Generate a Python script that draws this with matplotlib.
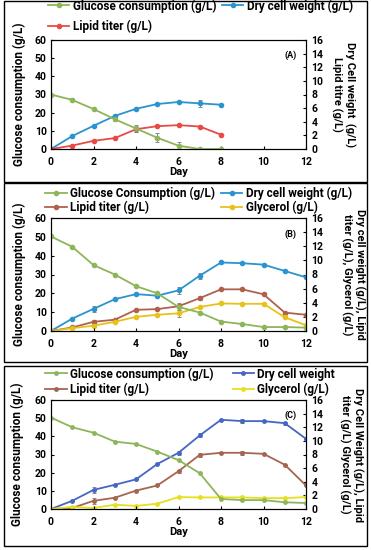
import matplotlib.pyplot as plt
from matplotlib.patches import Rectangle

plt.rcParams['font.family'] = ['Roboto', 'DejaVu Sans']
plt.rcParams['font.weight'] = 'bold'
plt.rcParams['axes.labelweight'] = 'bold'
plt.rcParams['font.size'] = 7.5

# ---- panel A data ----
days_a = [0, 1, 2, 3, 4, 5, 6, 7, 8]
glu_a = [30, 27, 22, 16.4, 11.3, 6.2, 1.8, 0, 0]
glu_a_err = [0, 0.8, 0.8, 0.8, 2.0, 2.5, 2.0, 0, 0]
dcw_a = [0, 1.9, 3.4, 4.85, 5.9, 6.6, 6.9, 6.7, 6.5]
dcw_a_err = [0, 0, 0, 0, 0, 0, 0.2, 0.5, 0]
lip_a = [0, 0.5, 1.2, 1.6, 2.9, 3.35, 3.5, 3.3, 2.1]
lip_a_err = [0, 0, 0, 0, 0.4, 0, 0, 0, 0]

# ---- panel B data ----
days_b = [0, 1, 2, 3, 4, 5, 6, 7, 8, 9, 10, 11, 12]
glu_b = [50.2, 44.7, 35, 30, 23.8, 20, 12.8, 9.8, 5, 3.7, 2.1, 2.1, 1.8]
dcw_b = [0, 1.76, 3.13, 4.5, 5.22, 5.0, 5.75, 7.83, 9.7, 9.6, 9.4, 8.5, 7.6]
dcw_b_err = [0, 0, 0.4, 0, 0, 0, 0.5, 0.4, 0, 0, 0, 0, 0]
lip_b = [0, 0.5, 1.3, 1.6, 3.0, 3.1, 3.5, 4.65, 5.9, 5.9, 5.2, 2.6, 2.3]
lip_b_err = [0, 0, 0.3, 0, 0, 0, 0.5, 0.3, 0, 0, 0, 0, 0]
gly_b = [0, 0.4, 0.75, 1.3, 2.0, 2.3, 2.5, 3.4, 3.9, 3.85, 3.85, 1.95, 0.8]
gly_b_err = [0, 0, 0, 0, 0, 0, 0.5, 0, 0, 0, 0, 0, 0]

# ---- panel C data ----
days_c = [0, 1, 2, 3, 4, 5, 6, 7, 8, 9, 10, 11, 12]
glu_c = [50.3, 45, 42, 37.1, 35.8, 31.6, 26.9, 19.7, 5.5, 4.9, 4.9, 3.7, 3.3]
dcw_c = [0, 1.2, 2.8, 3.55, 4.35, 6.6, 8.25, 10.8, 13.1, 12.9, 12.9, 12.6, 10.3]
dcw_c_err = [0, 0, 0.5, 0, 0, 0, 0.3, 0.3, 0, 0.3, 0, 0.2, 0]
lip_c = [0, 0.15, 1.2, 1.65, 2.7, 3.45, 5.55, 7.95, 8.25, 8.25, 8.1, 6.5, 3.45]
lip_c_err = [0, 0, 0.4, 0, 0, 0, 0.2, 0.3, 0, 0.3, 0, 0, 0]
gly_c = [0, 0.3, 0.15, 0.63, 0.45, 0.78, 1.75, 1.7, 1.7, 1.7, 1.6, 1.6, 1.75]

W, H = 371, 550
fig = plt.figure(figsize=(W / 100, H / 100), dpi=100)

# panel frames (pixels: x0, y_top, x1, y_bottom)
for x0, yt, x1, yb in [(4, 1, 367, 182), (4, 183, 367, 362), (4, 366, 367, 546)]:
    fig.patches.append(Rectangle((x0 / W, 1 - yb / H), (x1 - x0) / W, (yb - yt) / H,
                                 transform=fig.transFigure, fill=False,
                                 edgecolor='black', linewidth=1.0))

eb = dict(ecolor='#888888', elinewidth=0.7, capsize=1.5, capthick=0.7)


def make_axes(top, bottom, right_label, right_x, left_x, panel):
    ax = fig.add_axes([51 / W, 1 - bottom / H, 255 / W, (bottom - top) / H])
    ax2 = ax.twinx()
    ax.set_xlim(0, 12)
    ax.set_ylim(0, 60)
    ax2.set_ylim(0, 16)
    ax.set_xticks(range(0, 13, 2))
    ax.set_yticks(range(0, 61, 10))
    ax2.set_yticks(range(0, 17, 2))
    ax.tick_params(axis='y', direction='in', length=2, pad=3)
    ax.tick_params(axis='x', direction='in', length=2, pad=6)
    ax2.tick_params(axis='y', direction='in', length=2, pad=4)
    for s in list(ax.spines.values()) + list(ax2.spines.values()):
        s.set_linewidth(0.8)
    ax.set_xlabel('Day', labelpad=0, fontsize=8)
    ymid = 1 - (top + bottom) / 2 / H
    fig.text(left_x / W, ymid, 'Glucose consumption (g/L)', rotation=90,
             ha='center', va='center', fontsize=8.5)
    fig.text(right_x / W, ymid, right_label, rotation=-90, ha='center', va='center',
             linespacing=1.15, multialignment='center', fontsize=8)
    ax.text(0.94, 0.86, panel, transform=ax.transAxes, ha='center', va='center', fontsize=6.5)
    ax.set_zorder(ax2.get_zorder() + 1)
    ax.patch.set_visible(False)
    return ax, ax2


def line(a, x, y, err, color, ms=3):
    c = a.errorbar(x, y, yerr=err, color=color, marker='o', ms=ms, lw=1.3, **eb)
    return c[0]


leg = dict(ncol=2, frameon=False, loc='lower left', handlelength=1.8,
           handletextpad=0.3, borderaxespad=0.2, fontsize=8.5)

# ---- panel A ----
ax, ax2 = make_axes(40, 149, 'Dry Cell weight  (g/L)\nLipid titre (g/L)', 343, 19, '(A)')
h1 = line(ax, days_a, glu_a, glu_a_err, '#8db55a')
h2 = line(ax2, days_a, dcw_a, dcw_a_err, '#2a94cf')
h3 = line(ax2, days_a, lip_a, lip_a_err, '#e84a45')
ax.legend([h1, h3, h2], ['Glucose consumption (g/L)', 'Lipid titer (g/L)', 'Dry cell weight (g/L)'],
          bbox_to_anchor=(-0.04, 1.0), columnspacing=0.5, labelspacing=0.6, **leg)

# ---- panel B ----
ax, ax2 = make_axes(218, 331, 'Dry cell weight (g/L), Lipid\ntiter (g/L), Glycerol (g/L)', 353, 19, '(B)')
h1 = line(ax, days_b, glu_b, None, '#8db55a')
h2 = line(ax2, days_b, dcw_b, dcw_b_err, '#2a94cf')
h3 = line(ax2, days_b, lip_b, lip_b_err, '#b0614c')
h4 = line(ax2, days_b, gly_b, gly_b_err, '#e8c21a')
ax.legend([h1, h3, h2, h4],
          ['Glucose Consumption (g/L)', 'Lipid titer (g/L)', 'Dry cell weight (g/L)', 'Glycerol (g/L)'],
          bbox_to_anchor=(-0.05, 0.97), columnspacing=0.5, labelspacing=0.05, **leg)

# ---- panel C ----
ax, ax2 = make_axes(400, 509, 'Dry Cell Weight (g/L), Lipid\ntiter (g/L) Glycerol (g/L)', 351, 17, '(C)')
h1 = line(ax, days_c, glu_c, None, '#8db55a', 2.5)
h2 = line(ax2, days_c, dcw_c, dcw_c_err, '#4566c4', 2.5)
h3 = line(ax2, days_c, lip_c, lip_c_err, '#a5654f', 2.5)
h4 = line(ax2, days_c, gly_c, None, '#e6e01e', 2.5)
ax.legend([h1, h3, h2, h4],
          ['Glucose consumption (g/L)', 'Lipid titer (g/L)', 'Dry cell weight', 'Glycerol (g/L)'],
          bbox_to_anchor=(-0.05, 0.97), columnspacing=1.6, labelspacing=0.2, **leg)

fig.savefig('out.png', dpi=100)
